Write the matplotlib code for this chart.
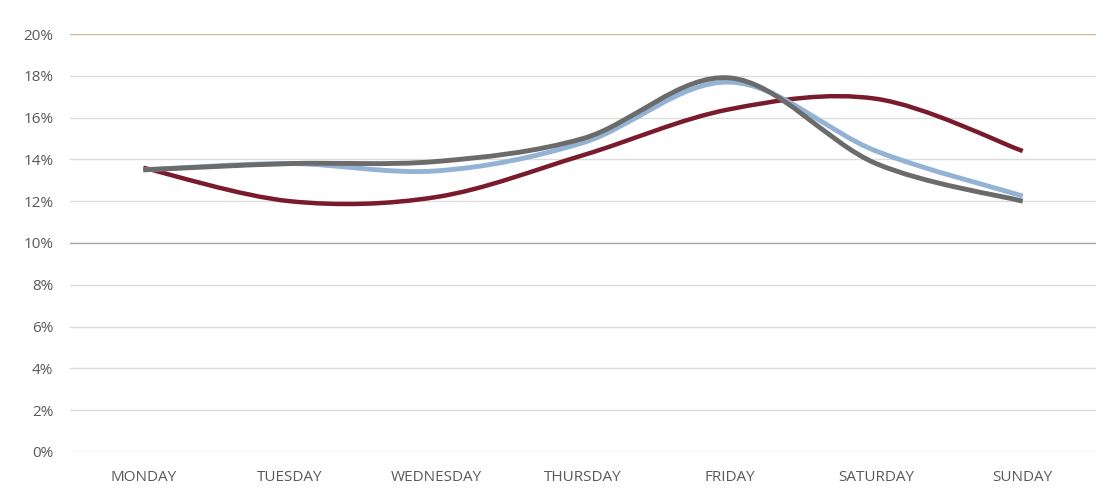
import matplotlib
matplotlib.use("Agg")
import matplotlib.pyplot as plt
from matplotlib.path import Path
from matplotlib.patches import PathPatch
from matplotlib.ticker import FuncFormatter

plt.rcParams['font.family'] = ['Open Sans', 'DejaVu Sans']

# 数据（%）
days = ["MONDAY", "TUESDAY", "WEDNESDAY", "THURSDAY", "FRIDAY", "SATURDAY", "SUNDAY"]
series_red = [13.6, 12.0, 12.2, 14.2, 16.4, 16.9, 14.4]
series_blue = [13.5, 13.8, 13.45, 14.8, 17.7, 14.4, 12.25]
series_gray = [13.5, 13.8, 13.9, 15.0, 17.9, 13.8, 12.0]
y_ticks = [0, 2, 4, 6, 8, 10, 12, 14, 16, 18, 20]


def smooth_path(xs, ys):
    # 类似 Excel 平滑线：Catmull-Rom 转三次贝塞尔
    pts = list(zip(xs, ys))
    n = len(pts)
    verts = [pts[0]]
    codes = [Path.MOVETO]
    for i in range(n - 1):
        p0 = pts[i - 1] if i > 0 else pts[i]
        p1 = pts[i]
        p2 = pts[i + 1]
        p3 = pts[i + 2] if i + 2 < n else pts[i + 1]
        c1 = (p1[0] + (p2[0] - p0[0]) / 6, p1[1] + (p2[1] - p0[1]) / 6)
        c2 = (p2[0] - (p3[0] - p1[0]) / 6, p2[1] - (p3[1] - p1[1]) / 6)
        verts += [c1, c2, p2]
        codes += [Path.CURVE4] * 3
    return Path(verts, codes)


fig = plt.figure(figsize=(11.11, 4.9), dpi=100)
ax = fig.add_axes([0.063, 0.0776, 0.9235, 0.853])

x = list(range(len(days)))

# 网格线
for t in y_ticks:
    if t == 20:
        c = '#d6b89c'
    elif t == 10:
        c = '#a9a4a4'
    else:
        c = '#dcdcdc'
    ax.axhline(t, color=c, linewidth=1.0, zorder=1)

for vals, color, lw in [(series_red, '#7a1a2d', 3.2),
                        (series_blue, '#93b2d4', 3.5),
                        (series_gray, '#6b6b6b', 3.5)]:
    patch = PathPatch(smooth_path(x, vals), facecolor='none', edgecolor=color,
                      linewidth=lw, capstyle='butt', joinstyle='round', zorder=3)
    ax.add_patch(patch)

ax.set_xlim(-0.5, len(days) - 0.5)
ax.set_ylim(0, 20)
ax.set_xticks(x)
ax.set_xticklabels(days)
ax.set_yticks(y_ticks)
ax.yaxis.set_major_formatter(FuncFormatter(lambda v, p: f"{v:.0f}%"))
ax.tick_params(axis='both', length=0, labelsize=11, labelcolor='#595959')
ax.tick_params(axis='x', pad=13)
ax.tick_params(axis='y', pad=12)
for s in ax.spines.values():
    s.set_visible(False)

plt.savefig("out.png", dpi=100)
plt.close()
